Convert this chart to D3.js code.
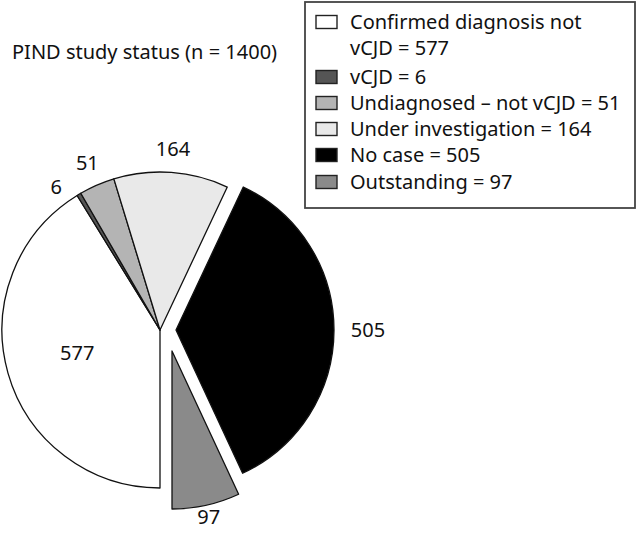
<!DOCTYPE html>
<html><head><meta charset="utf-8">
<script src="https://cdn.jsdelivr.net/npm/d3@7"></script>
<style>body{margin:0;background:#fff}svg{display:block}text{font-family:"Noto Sans","Open Sans",sans-serif;fill:#111}</style>
</head><body>
<svg id="c" width="640" height="533"></svg>
<script>
const categories = ["Confirmed diagnosis not vCJD","vCJD","Undiagnosed \u2013 not vCJD","Under investigation","No case","Outstanding"];
const values = [577, 6, 51, 164, 505, 97];
const legendLines = [["Confirmed diagnosis not","vCJD = 577"],["vCJD = 6"],["Undiagnosed \u2013 not vCJD = 51"],["Under investigation = 164"],["No case = 505"],["Outstanding = 97"]];
const title = "PIND study status (n = 1400)";

const colors = ["#ffffff","#555555","#b4b4b4","#e9e9e9","#000000","#8a8a8a"];
const explode = [[0,0],[0,0],[0,0],[0,0],[16,0],[12,21]];
const labelR = [86,177,182,181,192,170];
const labelShift = [0,-5,0,0,0,0]; // degrees

const svg = d3.select("#c");
const cx = 160, cy = 330, R = 158;
const data = categories.map((c,i)=>({c, v: values[i], i}));
const pie = d3.pie().value(d=>d.v).sort(null).startAngle(Math.PI).endAngle(3*Math.PI);
const arcs = pie(data);
const arc = d3.arc().innerRadius(0).outerRadius(R);

const g = svg.append("g").attr("transform",`translate(${cx},${cy})`);
g.selectAll("path").data(arcs).join("path")
  .attr("d", arc)
  .attr("transform", d=>`translate(${explode[d.data.i][0]},${explode[d.data.i][1]})`)
  .attr("fill", d=>colors[d.data.i])
  .attr("stroke", "#111").attr("stroke-width", 1.3).attr("stroke-linejoin","round");

const midA = d => (d.startAngle+d.endAngle)/2 + labelShift[d.data.i]*Math.PI/180;
g.selectAll("text.lbl").data(arcs).join("text").attr("class","lbl")
  .attr("x", d=>explode[d.data.i][0]+Math.sin(midA(d))*labelR[d.data.i])
  .attr("y", d=>explode[d.data.i][1]-Math.cos(midA(d))*labelR[d.data.i]+7)
  .attr("text-anchor","middle")
  .attr("font-size", 20).text(d=>d.data.v);

svg.append("text").attr("x", 12).attr("y", 59).attr("font-size", 20).text(title);

const lg = svg.append("g");
lg.append("rect").attr("x",305).attr("y",2).attr("width",330).attr("height",206)
  .attr("fill","#fff").attr("stroke","#444").attr("stroke-width",1.8);
const rowY = [22,77,103,129,155,182];
legendLines.forEach((lines,i)=>{
  lg.append("rect").attr("x",316).attr("y",rowY[i]-6.5).attr("width",21).attr("height",13)
    .attr("fill",colors[i]).attr("stroke","#222").attr("stroke-width",1.4);
  lines.forEach((t,j)=>{
    lg.append("text").attr("x",350).attr("y",rowY[i]+7+j*26).attr("font-size",20).text(t);
  });
});
</script>
</body></html>
